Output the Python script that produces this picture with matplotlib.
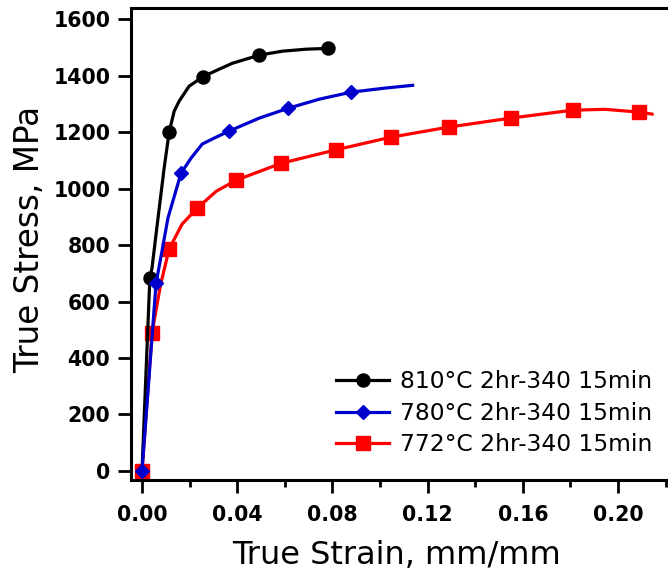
import matplotlib
matplotlib.use("Agg")
import matplotlib.pyplot as plt

plt.rcParams['font.family'] = ['DejaVu Sans']

# 810C curve (black, circles)
strain_810 = [0, 0.0033, 0.0042, 0.0059, 0.0076, 0.0093, 0.0114, 0.0135, 0.0156, 0.0198, 0.0257,
              0.0324, 0.0379, 0.0493, 0.059, 0.069, 0.0783]
stress_810 = [0, 685, 719, 839, 956, 1073, 1200, 1274, 1310, 1363, 1397,
              1423, 1444, 1473, 1487, 1494, 1497]
marks_810 = [1, 6, 10, 13, 16]

# 780C curve (blue, diamonds)
strain_780 = [0, 0.0059, 0.0084, 0.0109, 0.0164, 0.0206, 0.0253, 0.0303, 0.0366, 0.0493, 0.0615,
              0.0745, 0.088, 0.1019, 0.1137]
stress_780 = [0, 665, 779, 896, 1055, 1108, 1158, 1179, 1204, 1250, 1285,
              1317, 1342, 1356, 1366]
marks_780 = [0, 1, 4, 8, 10, 12]

# 772C curve (red, squares)
strain_772 = [0, 0.0042, 0.0078, 0.0114, 0.0168, 0.0232, 0.0312, 0.0396, 0.0585, 0.0817, 0.1044,
              0.1288, 0.155, 0.181, 0.1945, 0.209, 0.2143]
stress_772 = [0, 488, 660, 786, 874, 931, 991, 1030, 1090, 1138, 1182,
              1218, 1250, 1278, 1281, 1271, 1264]
marks_772 = [0, 1, 3, 5, 7, 8, 9, 10, 11, 12, 13, 15]

labels = ['810°C 2hr-340 15min', '780°C 2hr-340 15min', '772°C 2hr-340 15min']

fig = plt.figure(figsize=(6.68, 5.74), dpi=100)
ax = fig.add_axes([0.1961, 0.1638, 0.81, 0.8223])

l3, = ax.plot(strain_772, stress_772, '-s', color='#ff0000', lw=2.3, ms=10.5, markevery=marks_772, zorder=2)
l1, = ax.plot(strain_810, stress_810, '-o', color='black', lw=2.3, ms=9.4, markevery=marks_810, zorder=3)
l2, = ax.plot(strain_780, stress_780, '-D', color='#0000cc', lw=2.3, ms=6.8, markevery=marks_780, zorder=4)

ax.set_xlim(-0.00463, 0.2227)
ax.set_ylim(-32, 1640)
ax.set_xticks([0.00, 0.04, 0.08, 0.12, 0.16, 0.20])
ax.set_xticks([0.02, 0.06, 0.10, 0.14, 0.18, 0.22], minor=True)
ax.set_yticks(range(0, 1601, 200))
ax.set_xticklabels(['0.00', '0.04', '0.08', '0.12', '0.16', '0.20'])

for s in ax.spines.values():
    s.set_linewidth(2.2)
ax.spines['right'].set_visible(False)

ax.tick_params(which='major', direction='out', length=9.4, width=2, labelsize=14.8, pad=5.5)
ax.tick_params(axis='x', which='major', pad=8.5)
ax.tick_params(which='minor', direction='out', length=5, width=2)
ax.tick_params(top=False, right=False)
for t in ax.get_xticklabels() + ax.get_yticklabels():
    t.set_fontweight('bold')

ax.set_xlabel('True Strain, mm/mm', fontsize=23)
ax.set_ylabel('True Stress, MPa', fontsize=23.5)
ax.xaxis.set_label_coords(0.491, -0.128)
ax.yaxis.set_label_coords(-0.157, 0.51)

ax.legend([l1, l2, l3], labels, loc='lower right', bbox_to_anchor=(0.977, 0.205),
          bbox_transform=fig.transFigure, frameon=False, fontsize=16.8,
          handlelength=2.27, handletextpad=0.47, labelspacing=0.37, borderpad=0, borderaxespad=0)

fig.savefig('out.png', dpi=100)
